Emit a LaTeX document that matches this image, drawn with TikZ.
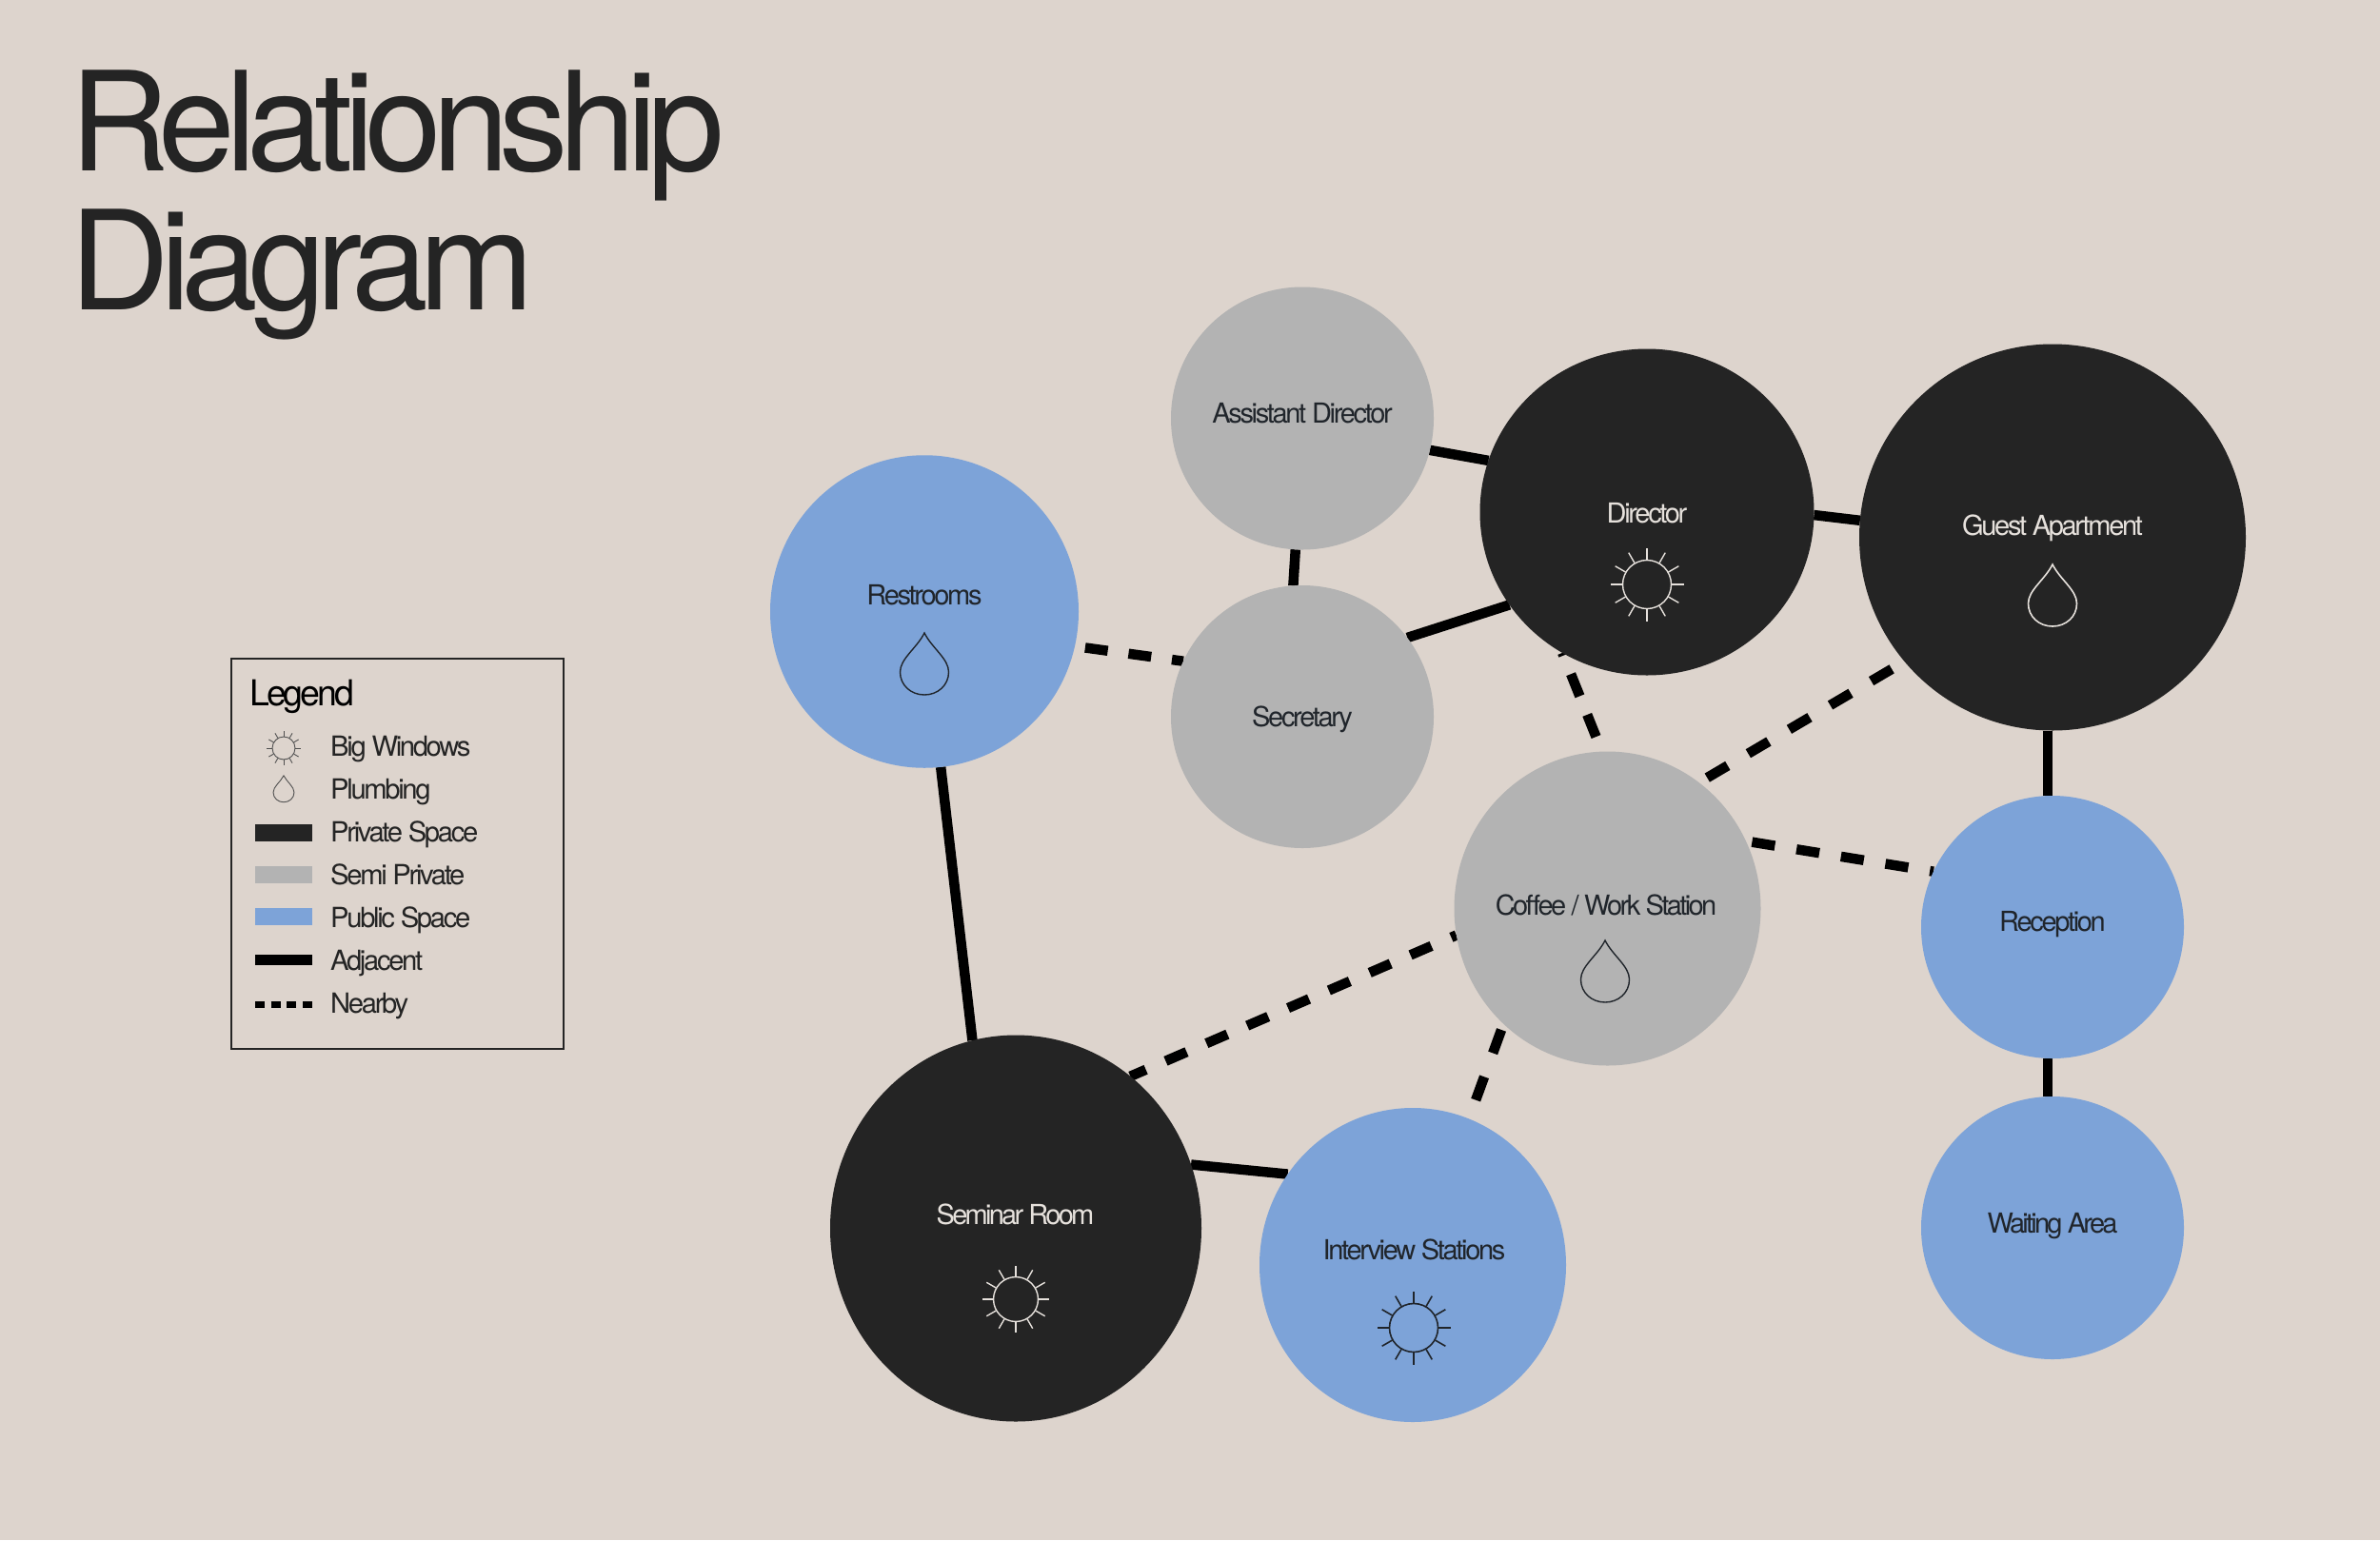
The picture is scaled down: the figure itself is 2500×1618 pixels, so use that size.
\documentclass[tikz,border=0pt]{standalone}
\usepackage{fontspec}
\usetikzlibrary{shapes.geometric}
\setmainfont[LetterSpace=-8]{TeX Gyre Heros}
\newfontfamily\titlefont[LetterSpace=-6.8]{TeX Gyre Heros}
\newfontfamily\tightfont[LetterSpace=-9.5]{TeX Gyre Heros}
\newfontfamily\midfont[LetterSpace=-9]{TeX Gyre Heros}
\definecolor{paper}{HTML}{DDD4CD}
\definecolor{darkfill}{HTML}{242424}
\definecolor{greyfill}{HTML}{B3B3B3}
\definecolor{bluefill}{HTML}{7DA3D8}
\definecolor{lighttext}{HTML}{E6E1DC}
\definecolor{darktext}{HTML}{20252B}
\pgfdeclarelayer{back}
\pgfdeclarelayer{lines}
\pgfsetlayers{back,lines,main}
\tikzset{
  room/.style={ellipse,inner sep=0pt,outer sep=0pt,draw=none},
  privateroom/.style={room,fill=darkfill},
  semiroom/.style={room,fill=greyfill},
  publicroom/.style={room,fill=bluefill},
  roomlabel/.style={inner sep=0pt,anchor=base,font=\fontsize{29}{29}\selectfont,text=darktext},
  roomlabellight/.style={roomlabel,text=lighttext},
  titletext/.style={inner sep=0pt,anchor=base west,font=\titlefont\fontsize{145}{145}\selectfont,text=darkfill},
  legendhead/.style={inner sep=0pt,anchor=base west,font=\fontsize{37.5}{37.5}\selectfont,text=black},
  legendtext/.style={inner sep=0pt,anchor=base west,font=\fontsize{29.2}{29.2}\selectfont,text=darkfill},
  swatch/.style={rectangle,inner sep=0pt,outer sep=0pt,minimum width=60pt,minimum height=18pt,anchor=west},
  adjacent/.style={line width=10.5pt,draw=black},
  nearby/.style={line width=10.5pt,draw=black,dash pattern=on 24.5pt off 22.5pt},
  pics/sunicon/.style={code={
    \draw (0,0) circle [radius=25.5];
    \foreach \a in {0,30,...,330}{\draw (\a:26) -- (\a:38.5);}
  }},
  pics/dropicon/.style={code={
    \draw (0,-33) .. controls (8,-17) and (25.5,-6) .. (25.5,8)
      .. controls (25.5,22) and (14,32) .. (0,32)
      .. controls (-14,32) and (-25.5,22) .. (-25.5,8)
      .. controls (-25.5,-6) and (-8,-17) .. (0,-33) -- cycle;
  }},
}
\begin{document}
\begin{tikzpicture}[x=1pt,y=-1pt]
\begin{pgfonlayer}{back}
  \fill[paper] (0,0) rectangle (2500,1618);
\end{pgfonlayer}
\useasboundingbox (0,0) rectangle (2500,1618);

% title
\node[titletext] (title1) at (73,179) {Relationship};
\node[titletext] (title2) at (73,325) {Diagram};

% rooms
\node[semiroom,minimum width=276pt,minimum height=276pt]    (assist) at (1368,439.5) {};
\node[privateroom,minimum width=351pt,minimum height=343pt] (director) at (1730,538) {};
\node[privateroom,minimum width=406pt,minimum height=406pt] (guest) at (2156,564.5) {};
\node[publicroom,minimum width=324pt,minimum height=328.5pt]  (rest) at (971,642.5) {};
\node[semiroom,minimum width=276pt,minimum height=276pt]    (secretary) at (1368,753) {};
\node[semiroom,minimum width=322pt,minimum height=330pt]    (coffee) at (1688.5,954.5) {};
\node[publicroom,minimum width=276pt,minimum height=276pt]  (reception) at (2156,974) {};
\node[publicroom,minimum width=276pt,minimum height=276pt]  (waiting) at (2156,1290) {};
\node[privateroom,minimum width=390pt,minimum height=406pt] (seminar) at (1067,1290.5) {};
\node[publicroom,minimum width=322pt,minimum height=330pt]  (interview) at (1484,1329) {};

% room labels
\node[roomlabel] (lassist) at (1368,444) {Assistant Director};
\node[roomlabellight] (ldirector) at (1730,549) {Director};
\node[roomlabellight] (lguest) at (2156,562) {Guest Apartment};
\node[roomlabel] (lrest) at (971,635) {Restrooms};
\node[roomlabel] (lsecretary) at (1368,763) {Secretary};
\node[roomlabel,font=\midfont\fontsize{29}{29}\selectfont] (lcoffee) at (1687,961) {Coffee / Work Station};
\node[roomlabel] (lreception) at (2156,978) {Reception};
\node[roomlabel,font=\tightfont\fontsize{29}{29}\selectfont] (lwaiting) at (2156,1295) {Waiting Area};
\node[roomlabellight,font=\tightfont\fontsize{29}{29}\selectfont] (lseminar) at (1066.5,1286) {Seminar Room};
\node[roomlabel] (linterview) at (1485.5,1323) {Interview Stations};

% connectors
\begin{pgfonlayer}{lines}
  \draw[adjacent] (assist.-14.9) -- (director.162.2);
  \draw[adjacent] (director.-1.5) -- (guest.175.5);
  \draw[adjacent] (assist.-93) -- (secretary.94);
  \draw[adjacent] (secretary.37) -- (director.214.7);
  \draw[adjacent] (rest.-84.5) -- (seminar.103.2);
  \draw[adjacent] (reception.92) -- (reception.92 |- guest.south);
  \draw[adjacent] (reception.-92) -- (waiting.92);
  \draw[adjacent] (seminar.20.3) -- (interview.144.3);
  \draw[nearby,dash pattern=on 24pt off 22pt,dash phase=35pt] (rest.-13.1) -- (secretary.155.7);
  \draw[nearby,dash pattern=on 25pt off 21pt,dash phase=22pt] (director.239.7) -- (coffee.92.5);
  \draw[nearby,dash pattern=on 25pt off 25pt,dash phase=40pt] (coffee.54.9) -- (guest.220);
  \draw[nearby,dash pattern=on 24.3pt off 23pt,dash phase=40.7pt] (coffee.26.6) -- (reception.155.5);
  \draw[nearby,dash pattern=on 24pt off 22.7pt,dash phase=18.1pt] (coffee.190) -- (seminar.53.7);
  \draw[nearby,dash pattern=on 26pt off 26.5pt,dash phase=45.9pt] (coffee.228.7) -- (interview.69.6);
\end{pgfonlayer}

% icons in rooms
\pic[color=lighttext,line width=1.4pt] at (1730,614) {sunicon};
\pic[color=lighttext,line width=1.4pt,scale=.92] at (1067,1365) {sunicon};
\pic[color=darktext,line width=1.6pt] at (1485,1395) {sunicon};
\pic[color=lighttext,line width=1.6pt] at (2156,626) {dropicon};
\pic[color=darktext,line width=1.4pt] at (971,698) {dropicon};
\pic[color=darktext,line width=1.4pt] at (1686,1021) {dropicon};

% legend
\node[rectangle,draw=darkfill,line width=2pt,inner sep=0pt,minimum width=349pt,minimum height=410pt,anchor=north west] (legendbox) at (242,691) {};
\node[legendhead] (lleg) at (262,741.5) {Legend};
\pic[color=darkfill!80,line width=.9pt,scale=.47] at (298,786) {sunicon};
\pic[color=darkfill!80,line width=.9pt,scale=.43] at (298,829) {dropicon};
\node[swatch,fill=darkfill] (swprivate) at (268,874.5) {};
\node[swatch,fill=greyfill] (swsemi) at (268,918.5) {};
\node[swatch,fill=bluefill] (swpublic) at (268,963) {};
\coordinate (adjA) at (268,1008.5);
\coordinate (adjB) at (328,1008.5);
\coordinate (nearA) at (268,1055);
\coordinate (nearB) at (328,1055);
\draw[line width=11pt,draw=black] (adjA) -- (adjB);
\draw[line width=7pt,draw=black,dash pattern=on 10pt off 6.67pt] (nearA) -- (nearB);
\node[legendtext] (t1) at (347,794) {Big Windows};
\node[legendtext] (t2) at (347,839) {Plumbing};
\node[legendtext] (t3) at (347,884) {Private Space};
\node[legendtext] (t4) at (347,929) {Semi Private};
\node[legendtext] (t5) at (347,974) {Public Space};
\node[legendtext] (t6) at (347,1019) {Adjacent};
\node[legendtext] (t7) at (347,1064) {Nearby};
\end{tikzpicture}
\end{document}
